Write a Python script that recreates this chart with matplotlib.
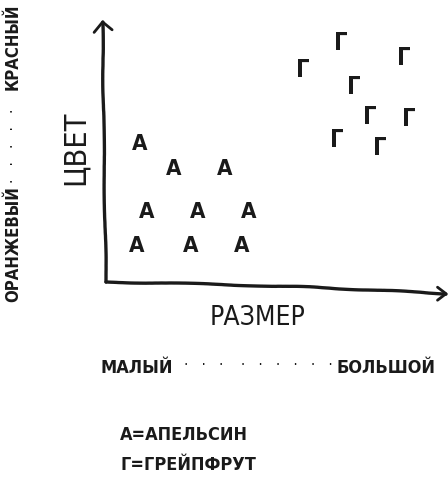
import matplotlib
matplotlib.use("Agg")
import matplotlib.pyplot as plt

# данные: размер (x) и цвет (y) в условных единицах
orange_x = [1.0, 2.0, 3.5, 1.2, 2.7, 4.2, 0.9, 2.5, 4.0]
orange_y = [5.3, 4.35, 4.35, 2.7, 2.7, 2.7, 1.4, 1.4, 1.4]
grape_x = [5.8, 6.9, 8.75, 7.3, 7.75, 8.9, 6.8, 8.05]
grape_y = [8.15, 9.2, 8.6, 7.5, 6.35, 6.25, 5.45, 5.15]

orange_mark = "А"
grape_mark = "Г"
x_label = "РАЗМЕР"
y_label = "ЦВЕТ"
x_range = ["МАЛЫЙ", "БОЛЬШОЙ"]
y_range = ["ОРАНЖЕВЫЙ", "КРАСНЫЙ"]
legend_lines = ["А=АПЕЛЬСИН", "Г=ГРЕЙПФРУТ"]

W, H = 448, 483
FONT = ["DejaVu Sans"]
STRETCH = "condensed"
INK = "#1a1a1a"


def px(x, y):
    """пиксели картинки -> доли фигуры"""
    return x / W, 1 - y / H


def label(x, y, s, **kw):
    kw.setdefault("family", FONT)
    kw.setdefault("fontstretch", STRETCH)
    kw.setdefault("color", INK)
    return fig.text(*px(x, y), s, **kw)


fig = plt.figure(figsize=(W / 100, H / 100), dpi=100)
fig.patch.set_facecolor("white")

# область графика: начало координат в (106, 282), верх оси в y=22, конец в x=446
ax = fig.add_axes([106 / W, 1 - 282 / H, 340 / W, 260 / H])
ax.set_xlim(0, 10)
ax.set_ylim(0, 10)
ax.axis("off")

# оси, нарисованные "от руки"
yl, = ax.plot([0, -0.006, -0.01], [0, 0.5, 1.0], color=INK, lw=2.4,
              transform=ax.transAxes, clip_on=False, solid_capstyle="round",
              solid_joinstyle="round")
xl, = ax.plot([0, 0.3, 0.6, 0.85, 1.0], [0, -0.008, -0.02, -0.035, -0.045], color=INK,
              lw=2.4, transform=ax.transAxes, clip_on=False, solid_capstyle="round",
              solid_joinstyle="round")
for ln in (yl, xl):
    ln.set_sketch_params(scale=0.5, length=150, randomness=4)
# стрелки
ax.plot([-0.035, -0.01, 0.018], [0.96, 1.0, 0.97], color=INK, lw=2,
        transform=ax.transAxes, clip_on=False, solid_capstyle="round")
ax.plot([0.975, 1.0, 0.975], [-0.02, -0.045, -0.07], color=INK, lw=2,
        transform=ax.transAxes, clip_on=False, solid_capstyle="round")

for x, y in zip(orange_x, orange_y):
    ax.text(x, y, orange_mark, ha="center", va="center", fontsize=16,
            family=FONT, fontstretch=STRETCH, weight="bold", color=INK)
for x, y in zip(grape_x, grape_y):
    ax.text(x, y, grape_mark, ha="center", va="center", fontsize=17,
            family=FONT, fontstretch=STRETCH, weight="bold", color=INK)

# подписи осей
label(75, 148, y_label, rotation=90, ha="center", va="center", fontsize=22)
label(258, 318, x_label, ha="center", va="center", fontsize=19)

# шкала размера
label(100, 368, x_range[0], ha="left", va="center", fontsize=13, weight="bold")
label(435, 368, x_range[1], ha="right", va="center", fontsize=13, weight="bold")
label(258, 365, "·   ·   ·    ·   ·   ·   ·   ·   ·", ha="center", va="center",
      fontsize=11)

# шкала цвета
label(13, 302, y_range[0], rotation=90, ha="center", va="bottom", fontsize=12,
      weight="bold")
label(13, 3, y_range[1], rotation=90, ha="center", va="top", fontsize=12,
      weight="bold")
label(13, 146, "·   ·   ·   ·   ·", rotation=90, ha="center", va="center",
      fontsize=11)

# легенда
label(120, 435, legend_lines[0], ha="left", va="center", fontsize=13, weight="bold")
label(120, 465, legend_lines[1], ha="left", va="center", fontsize=13, weight="bold")

fig.savefig("out.png", dpi=100, facecolor="white")
